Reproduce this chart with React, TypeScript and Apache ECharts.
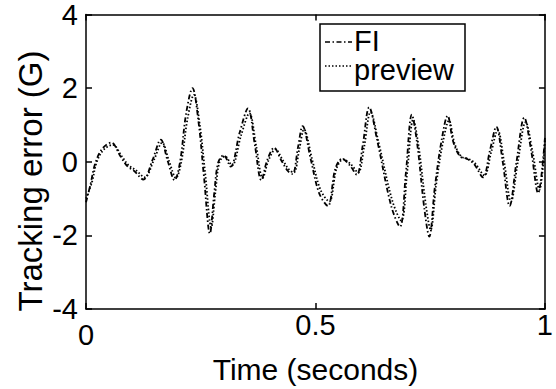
import React, { useEffect, useRef } from "react";
import * as echarts from "echarts";

const FONT = "'Liberation Sans', Arial, Helvetica, sans-serif";

const fiTimes = [
  0, 0.01, 0.02, 0.035, 0.055, 0.075, 0.09, 0.105, 0.125, 0.145,
  0.163, 0.178, 0.193, 0.205, 0.218, 0.232, 0.245, 0.257, 0.27, 0.279,
  0.288, 0.3, 0.315, 0.335, 0.353, 0.368, 0.382, 0.395, 0.41, 0.425,
  0.44, 0.45, 0.462, 0.472, 0.49, 0.508, 0.527, 0.543, 0.558, 0.575,
  0.59, 0.603, 0.617, 0.635, 0.665, 0.684, 0.697, 0.71, 0.722, 0.737,
  0.748, 0.76, 0.775, 0.788, 0.8, 0.815, 0.83, 0.845, 0.865, 0.88,
  0.894, 0.908, 0.923, 0.938, 0.955, 0.97, 0.985, 1.0,
];

const fiValues = [
  -1.1, -0.6, -0.05, 0.35, 0.52, 0.15, -0.12, -0.25, -0.48, 0.05,
  0.6, 0.02, -0.5, 0.0, 1.3, 2.0, 1.1, -0.4, -1.95, -0.9,
  -0.02, 0.18, -0.13, 0.8, 1.45, 0.45, -0.5, 0.05, 0.38, 0.05,
  -0.25, -0.33, 0.4, 0.97, 0.05, -0.85, -1.2, -0.2, 0.08, -0.1,
  -0.35, 0.45, 1.48, 0.55, -1.2, -1.76, -0.3, 1.28, 0.45, -1.25,
  -2.03, -0.7, 0.6, 1.25, 0.55, 0.15, 0.08, -0.05, -0.42, 0.3,
  0.95, 0.0, -1.2, 0.0, 1.2, 0.3, -0.85, 0.65,
];

const previewTimes = [
  0, 0.013, 0.023, 0.038, 0.058, 0.078, 0.093, 0.108, 0.128, 0.148,
  0.166, 0.181, 0.196, 0.208, 0.221, 0.235, 0.248, 0.26, 0.273, 0.282,
  0.291, 0.303, 0.318, 0.338, 0.356, 0.371, 0.385, 0.398, 0.413, 0.428,
  0.443, 0.453, 0.465, 0.475, 0.493, 0.511, 0.53, 0.546, 0.561, 0.578,
  0.593, 0.606, 0.62, 0.638, 0.668, 0.687, 0.7, 0.713, 0.725, 0.74,
  0.751, 0.763, 0.778, 0.791, 0.803, 0.818, 0.833, 0.848, 0.868, 0.883,
  0.897, 0.911, 0.926, 0.941, 0.958, 0.973, 0.988, 1.0,
];

const previewValues = [
  -1.0, -0.55, -0.02, 0.32, 0.46, 0.15, -0.1, -0.22, -0.42, 0.05,
  0.52, 0.02, -0.44, 0.02, 1.15, 1.82, 1.0, -0.35, -1.78, -0.82,
  0.0, 0.15, -0.1, 0.72, 1.32, 0.42, -0.44, 0.05, 0.34, 0.06,
  -0.22, -0.29, 0.36, 0.88, 0.05, -0.76, -1.08, -0.18, 0.07, -0.08,
  -0.3, 0.4, 1.35, 0.5, -1.08, -1.6, -0.26, 1.15, 0.4, -1.12,
  -1.85, -0.62, 0.55, 1.12, 0.5, 0.14, 0.08, -0.04, -0.37, 0.27,
  0.86, 0.0, -1.08, 0.0, 1.08, 0.27, -0.76, 0.58,
];

const seriesNames = ["FI", "preview"];
const xTicks = { min: 0, max: 1, interval: 0.5 };
const yTicks = { min: -4, max: 4, interval: 2 };
const xAxisTitle = "Time (seconds)";
const yAxisTitle = "Tracking error (G)";

export default function App() {
  const ref = useRef<HTMLDivElement>(null);

  useEffect(() => {
    if (!ref.current) return;
    const chart = echarts.init(ref.current, undefined, { renderer: "svg" });

    const axisLine = { show: true, onZero: false, lineStyle: { color: "#000", width: 1.5 } };
    const axisTick = { show: true, inside: true, length: 6, lineStyle: { color: "#000", width: 1.5 } };

    const fiData = fiTimes.map((t, i) => [t, fiValues[i]]);
    const previewData = previewTimes.map((t, i) => [t, previewValues[i]]);

    chart.setOption({
      animation: false,
      backgroundColor: "#fff",
      grid: { left: 86, right: 10, top: 13, bottom: 67, containLabel: false },
      xAxis: [
        {
          type: "value",
          position: "bottom",
          ...xTicks,
          axisLine,
          axisTick,
          splitLine: { show: false },
          axisLabel: {
            color: "#000",
            fontSize: 29,
            fontFamily: FONT,
            margin: 1,
            formatter: (v: number) => (v === 0 ? "{low|0}" : String(v)),
            rich: { low: { fontSize: 29, fontFamily: FONT, color: "#000", padding: [10, 0, 0, 0] } },
          },
          name: xAxisTitle,
          nameLocation: "middle",
          nameGap: 36,
          nameTextStyle: { color: "#000", fontSize: 30, fontFamily: FONT },
        },
        {
          type: "value",
          position: "top",
          ...xTicks,
          axisLine,
          axisTick,
          splitLine: { show: false },
          axisLabel: { show: false },
        },
      ],
      yAxis: [
        {
          type: "value",
          position: "left",
          ...yTicks,
          axisLine,
          axisTick,
          splitLine: { show: false },
          axisLabel: { color: "#000", fontSize: 29, fontFamily: FONT, margin: 8 },
        },
        {
          type: "value",
          position: "right",
          ...yTicks,
          axisLine,
          axisTick,
          splitLine: { show: false },
          axisLabel: { show: false },
        },
      ],
      series: [
        {
          name: seriesNames[0],
          type: "line",
          data: fiData,
          showSymbol: false,
          symbol: "none",
          smooth: 0.35,
          clip: true,
          lineStyle: { color: "#000", width: 1.8, type: [5, 2.5, 1.5, 2.5] },
        },
        {
          name: seriesNames[1],
          type: "line",
          data: previewData,
          showSymbol: false,
          symbol: "none",
          smooth: 0.35,
          clip: true,
          lineStyle: { color: "#000", width: 1.8, type: [1.5, 2] },
        },
      ],
      graphic: [
        {
          type: "text",
          x: 30,
          y: 181,
          rotation: Math.PI / 2,
          style: {
            text: yAxisTitle,
            fontSize: 33,
            fontFamily: FONT,
            fill: "#000",
            align: "center",
            verticalAlign: "middle",
            textAlign: "center",
            textVerticalAlign: "middle",
          },
        },
        {
          type: "rect",
          z: 100,
          shape: { x: 320, y: 24, width: 145, height: 67 },
          style: { fill: "#fff", stroke: "#000", lineWidth: 1.5 },
        },
        {
          type: "line",
          z: 101,
          shape: { x1: 325, y1: 42, x2: 352, y2: 42 },
          style: { stroke: "#000", lineWidth: 1.5, lineDash: [5, 2.5, 1.5, 2.5] },
        },
        {
          type: "line",
          z: 101,
          shape: { x1: 325, y1: 66, x2: 352, y2: 66 },
          style: { stroke: "#000", lineWidth: 1.5, lineDash: [1.5, 2] },
        },
        {
          type: "text",
          z: 101,
          x: 354,
          y: 41,
          style: {
            text: seriesNames[0],
            fontSize: 29,
            fontFamily: FONT,
            fill: "#000",
            align: "left",
            verticalAlign: "middle",
            textAlign: "left",
            textVerticalAlign: "middle",
          },
        },
        {
          type: "text",
          z: 101,
          x: 354,
          y: 70,
          style: {
            text: seriesNames[1],
            fontSize: 29,
            fontFamily: FONT,
            fill: "#000",
            align: "left",
            verticalAlign: "middle",
            textAlign: "left",
            textVerticalAlign: "middle",
          },
        },
      ],
    });

    return () => chart.dispose();
  }, []);

  return (
    <div
      ref={ref}
      style={{ position: "fixed", left: 0, top: 0, width: 556, height: 389, background: "#fff" }}
    />
  );
}
